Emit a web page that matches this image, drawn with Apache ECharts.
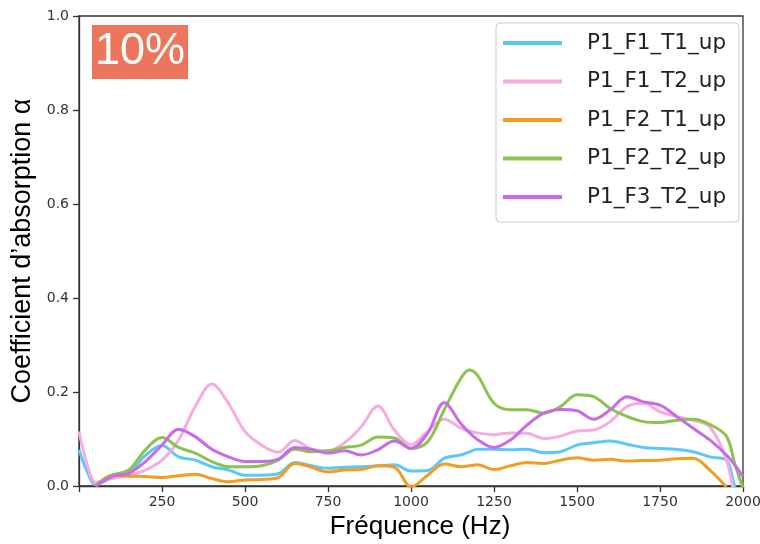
<!DOCTYPE html>
<html>
<head>
<meta charset="utf-8">
<script src="https://cdn.jsdelivr.net/npm/echarts@6/dist/echarts.min.js"></script>
<style>
  html, body { margin: 0; padding: 0; background: #fff; }
  #chart { width: 760px; height: 544px; }
</style>
</head>
<body>
<div id="chart"></div>
<script>
// Frequency samples (Hz)
const freq = [0, 25, 50, 100, 150, 200, 250, 300, 350, 400, 450,
  500, 550, 600, 650, 700, 750, 800, 850, 900, 950,
  1000, 1050, 1100, 1150, 1175, 1200, 1250, 1300, 1350, 1400, 1450,
  1500, 1550, 1600, 1650, 1700, 1750, 1800, 1850, 1900, 1950, 1975, 2000];

// Absorption coefficient for each sample
const p1F1T1 = [0.077, 0.030, 0.003, 0.018, 0.027, 0.065, 0.086, 0.062, 0.055, 0.041, 0.034,
  0.023, 0.023, 0.026, 0.050, 0.043, 0.038, 0.040, 0.041, 0.043, 0.045,
  0.032, 0.033, 0.059, 0.066, 0.072, 0.078, 0.078, 0.077, 0.078, 0.071, 0.073,
  0.087, 0.092, 0.096, 0.089, 0.082, 0.080, 0.078, 0.073, 0.062, 0.055, 0.000, -0.03];

const p1F1T2 = [0.116, 0.045, 0.008, 0.016, 0.023, 0.034, 0.055, 0.098, 0.169, 0.217, 0.176,
  0.116, 0.087, 0.072, 0.097, 0.078, 0.075, 0.092, 0.126, 0.170, 0.119,
  0.088, 0.116, 0.142, 0.123, 0.117, 0.113, 0.109, 0.113, 0.112, 0.101, 0.106,
  0.117, 0.119, 0.137, 0.169, 0.176, 0.158, 0.148, 0.140, 0.126, 0.055, -0.03, null];

const p1F2T1 = [null, null, 0.000, 0.023, 0.021, 0.020, 0.018, 0.022, 0.025, 0.016, 0.009,
  0.013, 0.014, 0.018, 0.048, 0.040, 0.030, 0.034, 0.035, 0.043, 0.040,
  -0.002, 0.023, 0.047, 0.041, 0.043, 0.045, 0.035, 0.043, 0.050, 0.048, 0.055,
  0.060, 0.055, 0.057, 0.053, 0.054, 0.055, 0.058, 0.059, 0.034, -0.002, null, null];

const p1F2T2 = [null, null, 0.000, 0.023, 0.034, 0.077, 0.103, 0.082, 0.070, 0.052, 0.041,
  0.041, 0.043, 0.055, 0.078, 0.073, 0.075, 0.082, 0.087, 0.104, 0.102,
  0.080, 0.094, 0.162, 0.229, 0.247, 0.236, 0.176, 0.162, 0.162, 0.155, 0.169,
  0.194, 0.190, 0.165, 0.148, 0.137, 0.135, 0.140, 0.142, 0.131, 0.106, 0.048, -0.005];

const p1F3T2 = [null, null, 0.000, 0.020, 0.027, 0.052, 0.087, 0.121, 0.105, 0.078, 0.062,
  0.052, 0.052, 0.057, 0.082, 0.078, 0.070, 0.075, 0.066, 0.077, 0.096,
  0.080, 0.112, 0.177, 0.133, 0.114, 0.099, 0.082, 0.098, 0.130, 0.155, 0.163,
  0.160, 0.142, 0.162, 0.190, 0.179, 0.172, 0.148, 0.123, 0.098, 0.066, 0.045, 0.020];

const seriesNames = ['P1_F1_T1_up', 'P1_F1_T2_up', 'P1_F2_T1_up', 'P1_F2_T2_up', 'P1_F3_T2_up'];
const seriesValues = [p1F1T1, p1F1T2, p1F2T1, p1F2T2, p1F3T2];
const seriesColors = ['#5BC8FA', '#F7ABDF', '#F59B22', '#8CC34C', '#C96BE8'];

const xTicks = { min: 0, max: 2000, step: 250 };
const yTicks = { min: 0, max: 1, step: 0.2 };

const chart = echarts.init(document.getElementById('chart'), null, { renderer: 'canvas' });

const axisColor = '#333';
const tickFont = { fontFamily: 'DejaVu Sans', fontSize: 14, color: '#333' };

chart.setOption({
  animation: false,
  backgroundColor: '#fff',
  title: {
    text: '10%',
    left: 92,
    top: 25,
    backgroundColor: '#EC765C',
    padding: [3, 3, 3, 3],
    textStyle: {
      color: '#fff',
      fontSize: 45,
      fontWeight: 'normal',
      fontFamily: 'Liberation Sans',
      lineHeight: 48
    }
  },
  legend: {
    orient: 'vertical',
    left: 496,
    top: 23,
    padding: [9, 13, 14, 7],
    itemGap: 16.5,
    itemWidth: 59,
    itemHeight: 4,
    icon: 'rect',
    backgroundColor: 'rgba(255,255,255,0.85)',
    borderColor: '#cccccc',
    borderWidth: 1,
    borderRadius: 4,
    textStyle: {
      fontFamily: 'DejaVu Sans',
      fontSize: 21.5,
      lineHeight: 22,
      color: '#222',
      padding: [0, 0, 0, 20]
    },
    data: seriesNames
  },
  grid: {
    left: 79,
    right: 17,
    top: 16,
    bottom: 58,
    outerBoundsMode: 'none',
    containLabel: false,
    show: true,
    borderColor: axisColor,
    borderWidth: 1.3,
    backgroundColor: 'transparent'
  },
  xAxis: {
    type: 'value',
    min: xTicks.min,
    max: xTicks.max,
    interval: xTicks.step,
    name: 'Fréquence (Hz)',
    nameLocation: 'middle',
    nameGap: 23,
    nameTextStyle: {
      fontFamily: 'Liberation Sans',
      fontSize: 26,
      color: '#000',
      padding: [0, 0, 0, 18]
    },
    axisLine: { show: true, lineStyle: { color: axisColor, width: 1.3 } },
    axisTick: { show: true, length: 6, lineStyle: { color: axisColor, width: 1.3 } },
    splitLine: { show: false },
    axisLabel: Object.assign({
      margin: 9,
      formatter: v => (v === 0 ? '' : String(v))
    }, tickFont)
  },
  yAxis: {
    type: 'value',
    min: yTicks.min,
    max: yTicks.max,
    interval: yTicks.step,
    name: 'Coefficient d’absorption α',
    nameLocation: 'middle',
    nameRotate: 90,
    nameGap: 39,
    nameTextStyle: {
      fontFamily: 'Liberation Sans',
      fontSize: 27,
      color: '#000'
    },
    axisLine: { show: true, lineStyle: { color: axisColor, width: 1.3 } },
    axisTick: { show: true, length: 6, lineStyle: { color: axisColor, width: 1.3 } },
    splitLine: { show: false },
    axisLabel: Object.assign({
      margin: 10,
      formatter: v => v.toFixed(1)
    }, tickFont)
  },
  series: seriesNames.map((name, i) => ({
    name: name,
    type: 'line',
    smooth: 0.35,
    showSymbol: false,
    clip: true,
    connectNulls: false,
    color: seriesColors[i],
    lineStyle: { width: 3, color: seriesColors[i] },
    data: freq.map((f, j) => [f, seriesValues[i][j]])
  }))
});
</script>
</body>
</html>
